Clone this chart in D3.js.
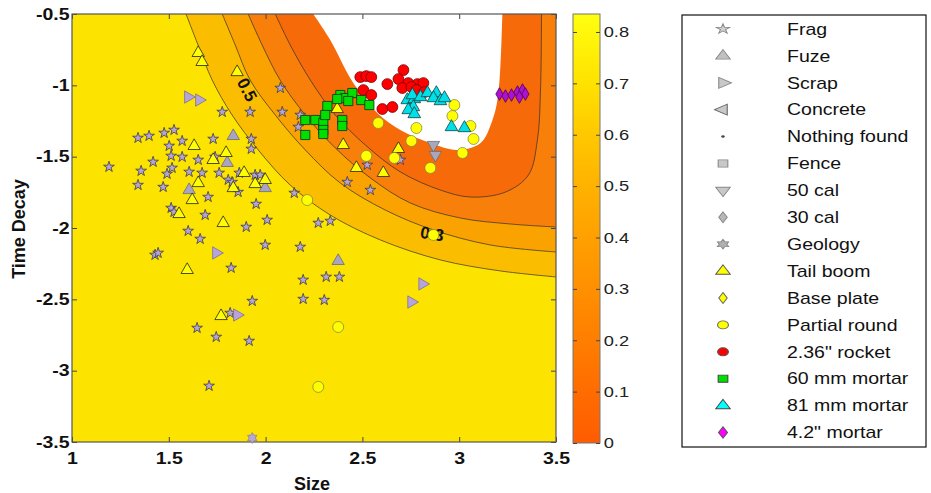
<!DOCTYPE html>
<html><head><meta charset="utf-8">
<script src="https://cdn.jsdelivr.net/npm/d3@7"></script>
<style>
body{margin:0;background:#fff}
svg{display:block}
text{font-family:"Liberation Sans",Arial,Helvetica,sans-serif}
</style>
</head><body>
<svg id="chart" width="931" height="493"></svg>
<script>
// ---------------- DATA ----------------
const categories = ["Frag","Fuze","Scrap","Concrete","Nothing found","Fence","50 cal","30 cal","Geology","Tail boom","Base plate","Partial round","2.36\" rocket","60 mm mortar","81 mm mortar","4.2\" mortar"];

const frag = [[2.076,-1.019],[1.776,-1.187],[1.920,-1.187],[2.086,-1.187],[2.179,-1.208],[2.169,-1.292],
[1.341,-1.369],[1.398,-1.355],[1.476,-1.334],[1.527,-1.313],[1.569,-1.390],[1.729,-1.376],[1.926,-1.376],[1.502,-1.425],[1.926,-1.446],
[1.419,-1.537],[1.191,-1.572],[1.512,-1.495],[1.569,-1.502],[1.652,-1.523],[1.739,-1.502],
[1.357,-1.600],[1.491,-1.621],[1.517,-1.579],[1.605,-1.607],[1.672,-1.614],[1.760,-1.614],[1.864,-1.614],[1.946,-1.628],[1.972,-1.628],
[1.341,-1.699],[1.471,-1.713],[1.807,-1.663],[1.827,-1.678],[1.858,-1.748],[1.703,-1.783],[1.951,-1.832],[2.148,-1.755],
[1.512,-1.860],[1.527,-1.888],[1.688,-1.909],[2.008,-1.944],[1.900,-1.993],[1.600,-2.021],[1.662,-2.077],[1.998,-2.119],[2.179,-2.133],
[1.429,-2.189],[1.445,-2.175],[1.822,-2.280],[2.194,-2.364],[1.931,-2.512],[2.194,-2.498],[1.817,-2.596],[1.646,-2.701],[1.745,-2.764],[1.915,-2.792],[1.708,-3.107],
[2.313,-2.343],[2.381,-2.343],[2.303,-2.505],
[2.525,-1.558],[2.422,-1.678],[2.541,-1.734],[2.272,-1.965],[2.334,-1.951],[2.696,-1.523]];
const fuze = [[1.833,-1.355],[1.802,-1.544],[1.605,-1.734],[1.998,-1.720],[2.375,-2.231]];
const scrap = [[1.600,-1.082],[1.657,-1.103],[1.745,-2.175],[1.853,-2.610],[2.810,-2.392],[2.753,-2.519]];
const concrete = [];
const nothingFound = [];
const fence = [];
const cal50 = [[2.867,-1.418],[2.877,-1.488]];
const cal30 = [];
const geology = [[1.931,-3.472]];
const tailBoom = [[1.652,-0.773],[1.672,-0.836],[1.853,-0.907],[1.631,-1.425],[1.796,-1.474],[1.729,-1.523],[1.652,-1.685],[1.621,-1.804],
[1.553,-1.902],[1.889,-1.614],[1.833,-1.720],[1.946,-1.692],[1.998,-1.663],[1.781,-1.965],[1.595,-2.294],[1.770,-2.617],
[2.370,-1.166],[2.401,-1.418],[2.469,-1.579],[2.608,-1.614],[2.686,-1.446]];
const basePlate = [];
const partialRound = [[2.215,-1.804],[2.582,-1.264],[2.520,-1.495],[2.665,-1.509],[2.753,-1.390],[2.779,-1.299],[2.851,-1.579],
[2.975,-1.138],[2.965,-1.215],[3.017,-1.474],[3.058,-1.285],[3.074,-1.376],[2.375,-2.694],[2.272,-3.114],[2.867,-2.049]];
const rocket236 = [[2.489,-0.942],[2.520,-0.935],[2.546,-0.942],[2.629,-0.991],[2.712,-0.893],[2.686,-0.956],[2.737,-0.984],[2.784,-0.991],
[2.815,-0.984],[2.706,-1.019],[2.753,-1.012],[2.505,-1.033],[2.546,-1.068],[2.603,-1.166],[2.655,-1.152],[2.779,-1.033],[2.820,-1.047]];
const mortar60 = [[2.386,-1.068],[2.412,-1.089],[2.448,-1.054],[2.427,-1.110],[2.494,-1.103],[2.536,-1.138],[2.319,-1.145],[2.205,-1.243],
[2.257,-1.243],[2.298,-1.264],[2.308,-1.208],[2.298,-1.313],[2.396,-1.243],[2.396,-1.285],[2.205,-1.348],[2.370,-1.096],[2.298,-1.341]];
const mortar81 = [[2.732,-1.103],[2.768,-1.096],[2.763,-1.152],[2.737,-1.173],[2.768,-1.201],[2.758,-1.068],[2.800,-1.082],[2.836,-1.054],
[2.882,-1.054],[2.867,-1.089],[2.903,-1.110],[2.924,-1.089],[2.960,-1.292],[3.027,-1.299]];
const mortar42 = [[3.208,-1.061],[3.239,-1.075],[3.270,-1.068],[3.301,-1.047],[3.327,-1.033],[3.342,-1.061],[3.311,-1.082]];

const seriesData = [frag,fuze,scrap,concrete,nothingFound,fence,cal50,cal30,geology,tailBoom,basePlate,partialRound,rocket236,mortar60,mortar81,mortar42];

// contour lines (decision surface)
const contourLevels = [0.6, 0.5, 0.4, 0.3, 0.2];
const contour06 = [[1.589,-0.5],[1.651,-0.717],[1.724,-0.963],[1.827,-1.208],[1.962,-1.453],[2.127,-1.699],[2.334,-1.909],[2.593,-2.084],[2.903,-2.224],[3.213,-2.301],[3.5,-2.343]];
const contour05 = [[1.776,-0.5],[1.843,-0.717],[1.920,-0.963],[2.050,-1.208],[2.205,-1.453],[2.386,-1.685],[2.618,-1.874],[2.867,-2.014],[3.161,-2.119],[3.5,-2.168]];
const contour04 = [[1.910,-0.5],[1.982,-0.717],[2.075,-0.963],[2.205,-1.208],[2.360,-1.439],[2.541,-1.649],[2.748,-1.825],[3.006,-1.930],[3.265,-1.972],[3.5,-1.993]];
const contour03 = [[2.050,-0.5],[2.127,-0.717],[2.231,-0.963],[2.360,-1.208],[2.515,-1.418],[2.696,-1.607],[2.903,-1.734],[3.058,-1.783],[3.239,-1.748],[3.358,-1.628],[3.404,-1.383],[3.420,-1.033],[3.425,-0.5]];
const contour02 = [[2.246,-0.5],[2.334,-0.682],[2.453,-0.984],[2.577,-1.194],[2.696,-1.313],[2.851,-1.404],[2.991,-1.453],[3.110,-1.404],[3.172,-1.243],[3.203,-1.054],[3.223,-0.5]];

const contourLabelText = ["0.5","0.3"];
const contourLabelPos = [[1.905,-1.03],[2.86,-2.04]];

const xTicks = [1,1.5,2,2.5,3,3.5];
const xTickLabels = ["1","1.5","2","2.5","3","3.5"];
const yTicks = [-0.5,-1,-1.5,-2,-2.5,-3,-3.5];
const yTickLabels = ["-0.5","-1","-1.5","-2","-2.5","-3","-3.5"];
const cbTicks = [0,0.1,0.2,0.3,0.4,0.5,0.6,0.7,0.8];
const cbTickLabels = ["0","0.1","0.2","0.3","0.4","0.5","0.6","0.7","0.8"];

// ---------------- STYLES ----------------
const hexagram = {draw(ctx, size){
  const R = Math.sqrt(size/2.2), r = R/Math.sqrt(3);
  for(let k=0;k<12;k++){const a=-Math.PI/2+k*Math.PI/6, rr=(k%2===0)?R:r;
    const px=rr*Math.cos(a), py=rr*Math.sin(a); if(k===0)ctx.moveTo(px,py); else ctx.lineTo(px,py);}
  ctx.closePath();}};
const styles = [
 {t:d3.symbolStar, rot:0, s:36, fill:"#b6a4d8", stroke:"#3a3a4a", lf:"#d0d0d0", ls:"#888"},
 {t:d3.symbolTriangle, rot:0, s:66, fill:"#aaa4c4", stroke:"#6a6a7a", lf:"#c0c0c0", ls:"#888"},
 {t:d3.symbolTriangle, rot:90, s:66, fill:"#b8a4dc", stroke:"#7a7090", lf:"#c8c8c8", ls:"#888"},
 {t:d3.symbolTriangle, rot:-90, s:62, fill:"#c0c0c0", stroke:"#888", lf:"#c8c8c8", ls:"#666"},
 {t:d3.symbolCircle, rot:0, s:5, fill:"#333", stroke:"none", lf:"#444", ls:"none"},
 {t:d3.symbolSquare, rot:0, s:60, fill:"#c0c0c0", stroke:"#888", lf:"#c8c8c8", ls:"#888"},
 {t:d3.symbolTriangle, rot:180, s:66, fill:"#a8a8b8", stroke:"#6a6a7a", lf:"#c8c8c8", ls:"#888"},
 {t:d3.symbolDiamond, rot:0, s:40, fill:"#b0b0b0", stroke:"#777", lf:"#b8b8b8", ls:"#888"},
 {t:hexagram, rot:0, s:64, fill:"#b8a8d4", stroke:"#8a80a0", lf:"#b0b0b0", ls:"#888"},
 {t:d3.symbolTriangle, rot:0, s:66, fill:"#ffff00", stroke:"#222", lf:"#ffff00", ls:"#555"},
 {t:d3.symbolDiamond, rot:0, s:40, fill:"#ffff00", stroke:"#555", lf:"#ffff00", ls:"#666"},
 {t:d3.symbolCircle, rot:0, s:95, fill:"#ffff00", stroke:"#8a8a40", lf:"#ffff00", ls:"#666"},
 {t:d3.symbolCircle, rot:0, s:92, fill:"#ff0000", stroke:"#7a0000", lf:"#ff0000", ls:"#555"},
 {t:d3.symbolSquare, rot:0, s:84, fill:"#00e000", stroke:"#0a300a", lf:"#00e000", ls:"#444"},
 {t:d3.symbolTriangle, rot:0, s:70, fill:"#00e0e8", stroke:"#104040", lf:"#00ffff", ls:"#444"},
 {t:d3.symbolDiamond, rot:0, s:46, fill:"#b010d0", stroke:"#4a0060", lf:"#ff00ff", ls:"#555"}
];
const bandColors = ["#fde400","#fbbd00","#f9a200","#f8800a","#f66a0a","#ffffff"];

// ---------------- DRAW ----------------
const svg = d3.select("#chart");
const X0=72, X1=556, Y0=14, Y1=442;
const x = d3.scaleLinear().domain([1,3.5]).range([X0,X1]);
const y = d3.scaleLinear().domain([-3.5,-0.5]).range([Y1,Y0]);

svg.append("defs").append("clipPath").attr("id","plotclip")
  .append("rect").attr("x",X0).attr("y",Y0).attr("width",X1-X0).attr("height",Y1-Y0);

const plot = svg.append("g").attr("clip-path","url(#plotclip)");
plot.append("rect").attr("x",X0).attr("y",Y0).attr("width",X1-X0).attr("height",Y1-Y0).attr("fill",bandColors[0]);

const curve = d3.line().x(d=>x(d[0])).y(d=>y(d[1])).curve(d3.curveCatmullRom.alpha(0.5));
function sideRegion(p){const f=p[0],l=p[p.length-1];
  return curve(p)+`L${x(3.8)},${y(l[1])}L${x(3.8)},${y(-0.2)}L${x(f[0])},${y(-0.2)}Z`;}
function cupRegion(p){const f=p[0],l=p[p.length-1];
  return curve(p)+`L${x(l[0])},${y(-0.2)}L${x(f[0])},${y(-0.2)}Z`;}

const contours = [contour06,contour05,contour04,contour03,contour02];
contours.forEach((c,i)=>{
  plot.append("path").attr("d", i<3 ? sideRegion(c) : cupRegion(c)).attr("fill",bandColors[i+1]).attr("stroke","none");
});
contours.slice(0,4).forEach(c=>{
  plot.append("path").attr("d",curve(c)).attr("fill","none").attr("stroke","#2a2a2a").attr("stroke-width",0.8).attr("stroke-opacity",0.85);
});
// contour labels
const labelAngles = [63, 9];
contourLabelText.forEach((t,i)=>{
  plot.append("text").attr("transform",`translate(${x(contourLabelPos[i][0])},${y(contourLabelPos[i][1])}) rotate(${labelAngles[i]})`)
    .attr("text-anchor","middle").attr("dy","0.35em").attr("font-size",17).attr("font-weight","bold").attr("fill","#111").text(t);
});

// axes
function styleAxis(g){g.select(".domain").remove(); g.selectAll("line").attr("stroke","#444");}
const tf = (labels,ticks)=> (d)=> labels[ticks.indexOf(d)];
svg.append("g").attr("transform",`translate(0,${Y1})`)
  .call(d3.axisBottom(x).tickValues(xTicks).tickFormat(tf(xTickLabels,xTicks)).tickSizeInner(-5).tickSizeOuter(0).tickPadding(11))
  .call(styleAxis)
  .call(g=>g.selectAll("text").attr("font-size",16).attr("font-weight","bold").attr("fill","#111").attr("font-family","Liberation Sans, Arial, sans-serif").attr("transform","scale(1.22,1)"));
svg.append("g").attr("transform",`translate(0,${Y0})`)
  .call(d3.axisTop(x).tickValues(xTicks).tickFormat("").tickSizeInner(-5).tickSizeOuter(0)).call(styleAxis);
svg.append("g").attr("transform",`translate(${X0},0)`)
  .call(d3.axisLeft(y).tickValues(yTicks).tickFormat(tf(yTickLabels,yTicks)).tickSizeInner(-5).tickSizeOuter(0).tickPadding(2))
  .call(styleAxis)
  .call(g=>g.selectAll("text").attr("font-size",16).attr("font-weight","bold").attr("fill","#111").attr("font-family","Liberation Sans, Arial, sans-serif").attr("transform","scale(1.22,1)"));
svg.append("g").attr("transform",`translate(${X1},0)`)
  .call(d3.axisRight(y).tickValues(yTicks).tickFormat("").tickSizeInner(-5).tickSizeOuter(0)).call(styleAxis);
svg.append("rect").attr("x",X0).attr("y",Y0).attr("width",X1-X0).attr("height",Y1-Y0)
  .attr("fill","none").attr("stroke","#555").attr("stroke-width",1.2);

// markers
const markers = svg.append("g");
seriesData.forEach((data,i)=>{
  const st = styles[i];
  const sym = d3.symbol().type(st.t).size(st.s);
  markers.append("g").selectAll("path").data(data).join("path")
    .attr("d",sym)
    .attr("transform",d=>`translate(${x(d[0])},${y(d[1])}) rotate(${st.rot})`)
    .attr("fill",st.fill).attr("stroke",st.stroke).attr("stroke-width",0.8);
});

// axis titles
svg.append("text").attr("x",312).attr("y",490).attr("text-anchor","middle")
  .attr("font-size",18).attr("font-weight","bold").attr("fill","#111").text("Size");
svg.append("text").attr("transform","translate(25,229) rotate(-90)").attr("text-anchor","middle")
  .attr("font-size",18).attr("font-weight","bold").attr("fill","#111").text("Time Decay");

// colorbar
const CB0=573, CB1=600;
const cb = d3.scaleLinear().domain([0,0.835]).range([443,14]);
const grad = svg.select("defs").append("linearGradient").attr("id","cbgrad")
  .attr("x1","0").attr("y1","1").attr("x2","0").attr("y2","0");
const cbStops = [[0,"#ff5c00"],[0.1,"#ff6c00"],[0.2,"#ff7e00"],[0.3,"#ff9000"],[0.4,"#ffa000"],[0.5,"#ffb200"],[0.6,"#ffc800"],[0.7,"#ffe200"],[0.835,"#ffff10"]];
cbStops.forEach(s=>grad.append("stop").attr("offset",(s[0]/0.835*100)+"%").attr("stop-color",s[1]));
svg.append("rect").attr("x",CB0).attr("y",14).attr("width",CB1-CB0).attr("height",429)
  .attr("fill","url(#cbgrad)").attr("stroke","#777").attr("stroke-width",1);
svg.append("g").attr("transform",`translate(${CB1},0)`)
  .call(d3.axisRight(cb).tickValues(cbTicks).tickFormat(tf(cbTickLabels,cbTicks)).tickSizeInner(-4).tickSizeOuter(0).tickPadding(3))
  .call(styleAxis)
  .call(g=>g.selectAll("text").attr("font-size",15).attr("fill","#222").attr("font-family","Liberation Sans, Arial, sans-serif").attr("transform","scale(1.22,1)"));
svg.append("g").attr("transform",`translate(${CB0},0)`)
  .call(d3.axisLeft(cb).tickValues(cbTicks).tickFormat("").tickSizeInner(-4).tickSizeOuter(0)).call(styleAxis);

// legend
const LX=682, LY=15, LW=244, LH=432;
svg.append("rect").attr("x",LX).attr("y",LY).attr("width",LW).attr("height",LH)
  .attr("fill","#fff").attr("stroke","#111").attr("stroke-width",1.2);
const rowY = i => 29 + i*26.9;
categories.forEach((name,i)=>{
  const st = styles[i];
  const sym = d3.symbol().type(st.t).size(i===4?5:Math.min(st.s,60)*0.85);
  svg.append("path").attr("d",sym)
    .attr("transform",`translate(723,${rowY(i)}) scale(1.35,1) rotate(${st.rot})`)
    .attr("fill",st.lf).attr("stroke",st.ls).attr("stroke-width",0.8);
  svg.append("text").attr("transform",`translate(787,${rowY(i)}) scale(1.22,1)`)
    .attr("dy","0.36em").attr("font-size",16).attr("fill","#111").text(name);
});
</script>
</body></html>
